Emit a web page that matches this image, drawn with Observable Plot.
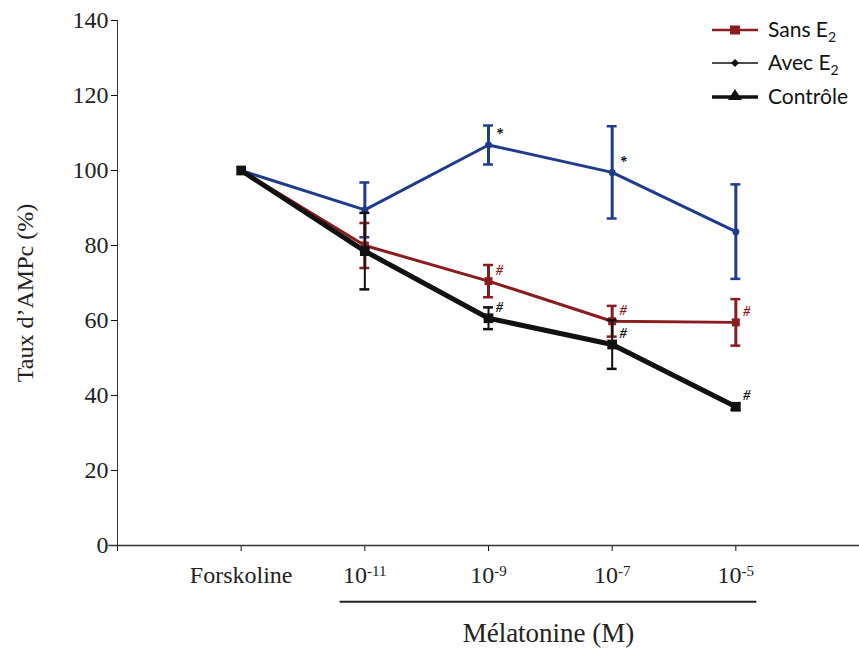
<!DOCTYPE html>
<html><head><meta charset="utf-8">
<script src="https://cdn.jsdelivr.net/npm/d3@7"></script>
<script src="https://cdn.jsdelivr.net/npm/@observablehq/plot@0.6"></script>
<style>
body{margin:0;background:#fff}
#wrap{position:relative;width:859px;height:648px}
#legend{position:absolute;left:700px;top:0px}
#wrap svg g[aria-label="y-axis tick label"], #wrap svg g[aria-label="y-axis tick label"] text{font-size:24px !important}
</style></head>
<body><div id="wrap"></div>
<script>
// categories (x positions are indices 1..5)
const doses = ["Forskoline", "10^-11", "10^-9", "10^-7", "10^-5"];
const melatoninDoses = ["10^-11", "10^-9", "10^-7", "10^-5"];
const yTicks = [0, 20, 40, 60, 80, 100, 120, 140];

// series values (mean, error)
const blueMean  = [100, 89.5, 106.8, 99.5, 83.7];
const blueErr   = [0, 7.3, 5.2, 12.3, 12.6];
const blueSig   = ["", "", "*", "*", ""];

const redMean   = [100, 80, 70.5, 59.8, 59.5];
const redErr    = [0, 6, 4.3, 4.1, 6.2];
const redSig    = ["", "", "#", "#", "#"];

const blackMean = [100, 78.5, 60.6, 53.6, 37];
const blackErr  = [0, 10.2, 2.9, 6.5, 0.8];
const blackSig  = ["", "", "#", "#", "#"];

const legendLabels = ["Sans E", "Avec E", "Contrôle"];

const colors = {blue: "#1f3c8c", red: "#8a1c20", black: "#111111"};

function rowsOf(key, mean, err, sig) {
  return doses.map((d, k) => ({key, i: k + 1, dose: d, v: mean[k], lo: mean[k] - err[k], hi: mean[k] + err[k], err: err[k], sig: sig[k]}));
}
const blue = rowsOf("blue", blueMean, blueErr, blueSig);
const red = rowsOf("red", redMean, redErr, redSig);
const black = rowsOf("black", blackMean, blackErr, blackSig);

function errorMarks(rows, color, w) {
  const r = rows.filter(d => d.err > 0);
  return [
    Plot.ruleX(r, {x: "i", y1: "lo", y2: "hi", stroke: color, strokeWidth: w}),
    Plot.ruleY(r, {y: "hi", x1: d => d.i - 0.04, x2: d => d.i + 0.04, stroke: color, strokeWidth: 2.5}),
    Plot.ruleY(r, {y: "lo", x1: d => d.i - 0.04, x2: d => d.i + 0.04, stroke: color, strokeWidth: 2.5})
  ];
}
function sigMarks(rows, color) {
  return Plot.text(rows.filter(d => d.sig), {x: "i", y: "v", text: "sig", dx: 11, dy: -11, fill: color,
    fontSize: 14, fontWeight: "bold", fontStyle: "italic", fontFamily: "Liberation Serif"});
}

const melIdx = melatoninDoses.map(d => doses.indexOf(d) + 1);
const bracket = [{x1: d3.min(melIdx) - 0.2, x2: d3.max(melIdx) + 0.17, label: "Mélatonine (M)"}];

const serif = "Liberation Serif, Times New Roman, serif";

const chart = Plot.plot({
  width: 859, height: 648,
  marginLeft: 117, marginRight: 0, marginTop: 20, marginBottom: 103,
  style: {fontFamily: serif, background: "#fff", color: "#111"},
  x: {type: "linear", domain: [0, 6], axis: null},
  y: {domain: [0, 140], axis: null},
  marks: [
    Plot.axisY(yTicks, {tickSize: 6, tickPadding: 3, fontSize: 24, label: null, fill: "#222"}),
    Plot.axisX([0, 1, 2, 3, 4, 5], {tickSize: 6, tickPadding: 14, fontSize: 24, label: null,
      tickFormat: i => i === 0 ? "" : doses[i - 1], fill: "#222"}),
    Plot.ruleX([0], {y1: 0, y2: 140, stroke: "#333", strokeWidth: 1}),
    Plot.ruleY([0], {x1: -0.07, x2: 6, stroke: "#333", strokeWidth: 1.5}),
    Plot.text(["Taux d’AMPc (%)"], {frameAnchor: "left", textAnchor: "middle", dx: -92, dy: 10, rotate: -90, fontSize: 24, fontFamily: serif, fill: "#222"}),
    Plot.ruleY(bracket, {y: -15, x1: "x1", x2: "x2", stroke: "#222", strokeWidth: 2}),
    Plot.text(bracket, {x: d => (d.x1 + d.x2) / 2, y: -23.5, text: "label", fontSize: 27, fontFamily: serif, fill: "#222"}),
    // blue series
    Plot.line(blue, {x: "i", y: "v", stroke: colors.blue, strokeWidth: 3}),
    ...errorMarks(blue, colors.blue, 3),
    Plot.dot(blue, {x: "i", y: "v", r: 3.5, fill: colors.blue}),
    sigMarks(blue, "#111"),
    // red series
    Plot.line(red, {x: "i", y: "v", stroke: colors.red, strokeWidth: 3}),
    ...errorMarks(red, colors.red, 3),
    Plot.dot(red, {x: "i", y: "v", r: 4.5, symbol: "square", fill: colors.red}),
    sigMarks(red, colors.red),
    // black series
    Plot.line(black, {x: "i", y: "v", stroke: colors.black, strokeWidth: 5}),
    ...errorMarks(black, colors.black, 2),
    Plot.dot(black, {x: "i", y: "v", r: 5.5, symbol: "square", fill: colors.black}),
    sigMarks(black, "#111")
  ]
});

// superscript exponents in the x tick labels
d3.select(chart).selectAll("g[aria-label='x-axis tick label'] text").each(function() {
  const t = this.textContent;
  const m = t.match(/^(\d+)\^(.+)$/);
  if (m) {
    const s = d3.select(this);
    s.text("");
    s.append("tspan").text(m[1]);
    s.append("tspan").attr("dy", "-0.42em").attr("font-size", "15px").text(m[2]);
  }
});

const wrap = document.getElementById("wrap");
wrap.appendChild(chart);

// legend
const lg = d3.select(wrap).append("svg").attr("id", "legend").attr("width", 159).attr("height", 120);
const items = [
  {y: 30, color: colors.red, w: 2.5, marker: "square"},
  {y: 63, color: "#111", w: 1.5, marker: "diamond"},
  {y: 97, color: "#111", w: 3.5, marker: "triangle"}
];
items.forEach((it, k) => {
  const g = lg.append("g");
  g.append("line").attr("x1", 12).attr("x2", 58).attr("y1", it.y).attr("y2", it.y).attr("stroke", it.color).attr("stroke-width", it.w);
  if (it.marker === "square") g.append("rect").attr("x", 30).attr("y", it.y - 4.5).attr("width", 10).attr("height", 9).attr("fill", it.color);
  if (it.marker === "diamond") g.append("path").attr("d", `M35,${it.y-4}L39,${it.y}L35,${it.y+4}L31,${it.y}Z`).attr("fill", it.color);
  if (it.marker === "triangle") g.append("path").attr("d", `M35,${it.y-8}L42,${it.y+3}L28,${it.y+3}Z`).attr("fill", it.color);
  const t = g.append("text").attr("x", 68).attr("y", it.y + 7).attr("font-family", "Lato, Open Sans, sans-serif").attr("font-size", 21).attr("fill", "#111").text(legendLabels[k]);
  if (k < 2) t.append("tspan").attr("dy", 5).attr("font-size", 14).text("2");
});
</script>
</body></html>
